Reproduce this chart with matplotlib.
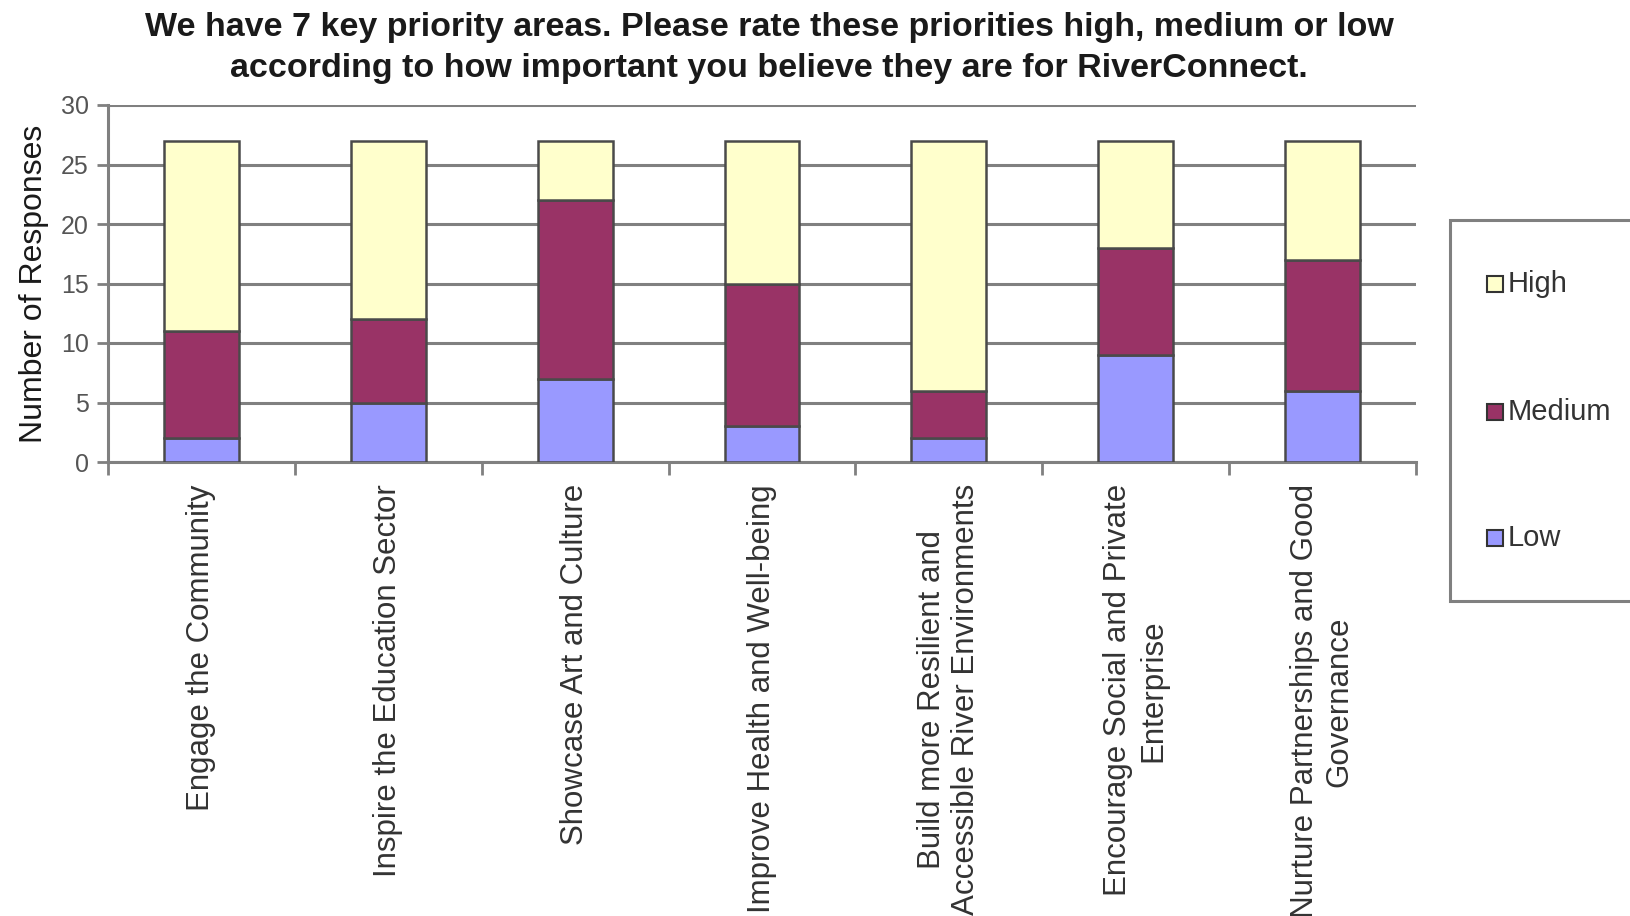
import matplotlib
matplotlib.use("Agg")
import matplotlib.pyplot as plt
from matplotlib.patches import Rectangle
from matplotlib.ticker import MultipleLocator, FixedLocator
import numpy as np

plt.rcParams['font.family'] = ['Liberation Sans', 'DejaVu Sans']

categories = [
    "Engage the Community",
    "Inspire the Education Sector",
    "Showcase Art and Culture",
    "Improve Health and Well-being",
    "Build more Resilient and\nAccessible River Environments",
    "Encourage Social and Private\nEnterprise",
    "Nurture Partnerships and Good\nGovernance",
]
series_names = ["Low", "Medium", "High"]
low = [2, 5, 7, 3, 2, 9, 6]
medium = [9, 7, 15, 12, 4, 9, 11]
high = [16, 15, 5, 12, 21, 9, 10]
colors = ["#9999FF", "#993366", "#FFFFCC"]

title = ("We have 7 key priority areas. Please rate these priorities high, medium or low\n"
         "according to how important you believe they are for RiverConnect.")

W, H = 1630, 916
fig = plt.figure(figsize=(W / 100, H / 100), dpi=100)
fig.patch.set_facecolor("white")

ax = fig.add_axes([108 / W, 1 - 462 / H, (1416 - 108) / W, (462 - 105) / H])

x = np.arange(len(categories))
grid_c = "#808080"
edge_c = "#4a4a4a"

bottom = np.zeros(len(categories))
for name, vals, col in zip(series_names, [low, medium, high], colors):
    ax.bar(x, vals, width=0.4, bottom=bottom, color=col, edgecolor=edge_c,
           linewidth=1.8, label=name, zorder=3)
    bottom += np.array(vals)

ax.set_xlim(-0.5, len(categories) - 0.5)
ax.set_ylim(0, 30)
ax.yaxis.set_major_locator(MultipleLocator(5))
ax.grid(axis="y", color=grid_c, linewidth=2.2, zorder=0)
ax.set_axisbelow(True)

for s in ["top", "right"]:
    ax.spines[s].set_visible(False)
for s in ["left", "bottom"]:
    ax.spines[s].set_color(grid_c)
    ax.spines[s].set_linewidth(2.2)

ax.tick_params(axis="y", direction="out", length=8, width=2, color=grid_c,
               labelsize=18, labelcolor="#555555", pad=6)
ax.set_xticks(x)
ax.set_xticklabels(categories, rotation=90, ha="center", va="top",
                   multialignment="center", fontsize=22.5, color="#333333")
ax.tick_params(axis="x", which="major", length=0, pad=16)
ax.xaxis.set_minor_locator(FixedLocator(np.arange(-0.5, len(categories), 1.0)))
ax.tick_params(axis="x", which="minor", direction="out", length=9, width=2, color=grid_c)

ax.set_ylabel("Number of Responses", fontsize=23, color="#1a1a1a", labelpad=8)

fig.text(769 / W, 1 - 48 / H, title, ha="center", va="center", fontsize=24.5,
         fontweight="bold", color="#1a1a1a", linespacing=1.4)

# legend box drawn in pixel space, running off the right edge
fig.patches.append(Rectangle((1450, H - 601), 260, 381, transform=None,
                             facecolor="white", edgecolor="#808080", linewidth=2.2))
ys = [284, 412, 538]
for yy, name, col in zip(ys, series_names[::-1], colors[::-1]):
    fig.patches.append(Rectangle((1487, H - yy - 8), 16, 16, transform=None,
                                 facecolor=col, edgecolor="#333333", linewidth=1.5))
    fig.text(1508 / W, 1 - yy / H, name, ha="left", va="center", fontsize=21,
             color="#333333")

fig.savefig("out.png", dpi=100)
